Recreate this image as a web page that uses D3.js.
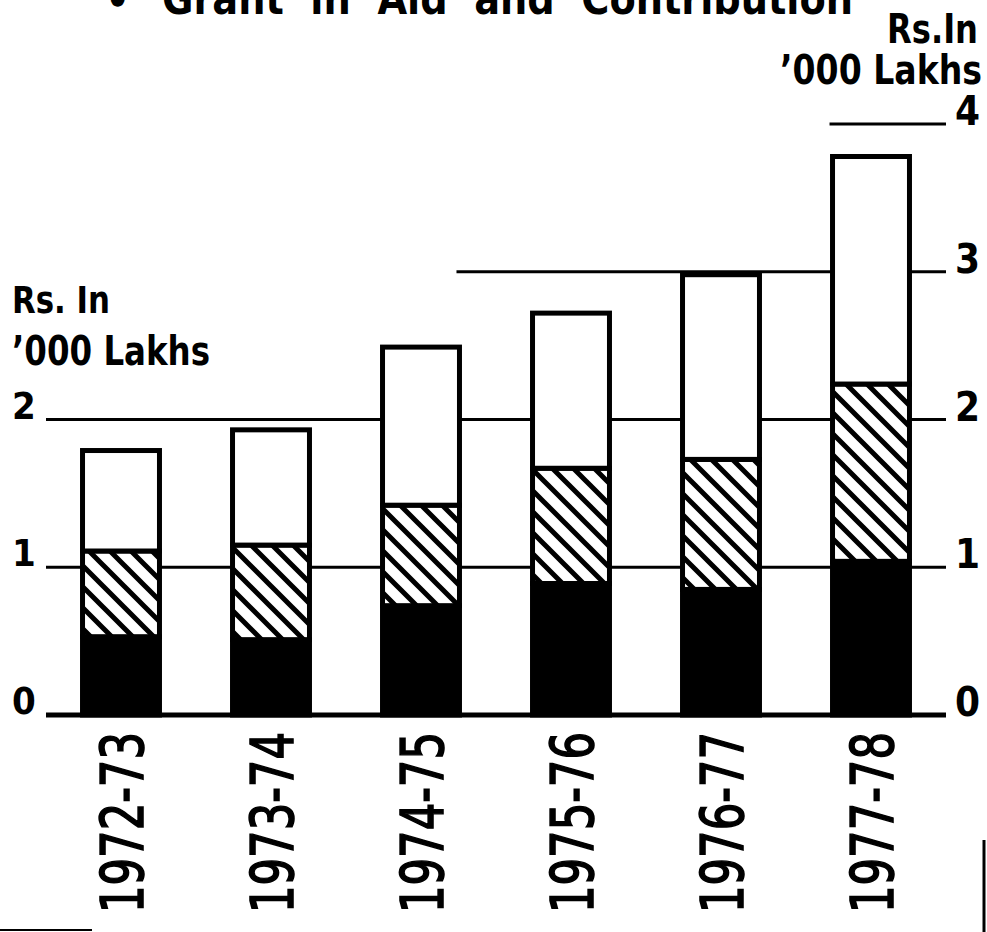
<!DOCTYPE html>
<html>
<head>
<meta charset="utf-8">
<script src="https://cdn.jsdelivr.net/npm/d3@7"></script>
<style>
  html, body { margin: 0; padding: 0; background: #fff; }
  svg { display: block; }
  text { font-family: "DejaVu Sans Condensed", "DejaVu Sans", sans-serif; fill: #000; }
</style>
</head>
<body>
<div id="container"></div>
<script>
var years = ["1972-73", "1973-74", "1974-75", "1975-76", "1976-77", "1977-78"];
// stacked segments, bottom to top (Rs. in '000 lakhs)
var solidPart = [0.53, 0.51, 0.74, 0.89, 0.85, 1.04];
var hatchedPart = [0.58, 0.64, 0.68, 0.78, 0.88, 1.20];
var openPart = [0.68, 0.78, 1.07, 1.05, 1.25, 1.54];
var leftTicks = [0, 1, 2];
var rightTicks = [0, 1, 2, 3, 4];
var title = "Grant  in  Aid  and  Contribution";

var width = 987, height = 932;

var svg = d3.select("div#container")
    .append("svg")
    .attr("width", width)
    .attr("height", height);

var defs = svg.append("defs");
var hatch = defs.append("pattern")
    .attr("id", "hatch")
    .attr("patternUnits", "userSpaceOnUse")
    .attr("width", 21)
    .attr("height", 21);
hatch.append("rect").attr("width", 21).attr("height", 21).attr("fill", "#fff");
hatch.append("path")
    .attr("d", "M0,0L21,21M-5.25,15.75L5.25,26.25M15.75,-5.25L26.25,5.25")
    .attr("stroke", "#000")
    .attr("stroke-width", 5);

var rows = years.map(function(y, i) {
    return { year: y, solid: solidPart[i], hatched: hatchedPart[i], open: openPart[i] };
});
var keys = ["solid", "hatched", "open"];
var fills = { solid: "#000", hatched: "url(#hatch)", open: "#fff" };
var series = d3.stack().keys(keys)(rows);

var x = d3.scaleBand()
    .domain(years)
    .range([46, 946])
    .paddingInner(0.487)
    .paddingOuter(0.2435);

var y = d3.scaleLinear()
    .domain([0, 4])
    .range([715, 124]);

// gridlines (upper ones only start near the tall bars)
var gridStart = function(v) {
    if (v === 3) return x("1974-75") + x.bandwidth() - 3;
    if (v === 4) return x("1977-78") - 3;
    return 46;
};
svg.append("g")
    .selectAll("line")
    .data(rightTicks.filter(function(v) { return v > 0; }))
    .enter().append("line")
    .attr("x1", gridStart)
    .attr("x2", 946)
    .attr("y1", function(d) { return y(d); })
    .attr("y2", function(d) { return y(d); })
    .attr("stroke", "#000")
    .attr("stroke-width", 3);

// bars
svg.append("g")
    .selectAll("g")
    .data(series)
    .enter().append("g")
    .attr("fill", function(d) { return fills[d.key]; })
    .selectAll("rect")
    .data(function(d) { return d; })
    .enter().append("rect")
    .attr("x", function(d) { return x(d.data.year); })
    .attr("width", x.bandwidth())
    .attr("y", function(d) { return y(d[1]); })
    .attr("height", function(d) { return y(d[0]) - y(d[1]); })
    .attr("stroke", "#000")
    .attr("stroke-width", 5);

// baseline
svg.append("line")
    .attr("x1", 46).attr("x2", 946)
    .attr("y1", y(0)).attr("y2", y(0))
    .attr("stroke", "#000")
    .attr("stroke-width", 5);

// left axis
svg.append("g")
    .selectAll("text")
    .data(leftTicks)
    .enter().append("text")
    .attr("x", 12)
    .attr("y", function(d) { return y(d) - 1; })
    .attr("font-size", 38)
    .attr("font-weight", "bold")
    .text(function(d) { return d; });

svg.append("text").attr("x", 12).attr("y", 313)
    .attr("font-size", 38).attr("font-weight", "bold")
    .attr("textLength", 98).attr("lengthAdjust", "spacingAndGlyphs")
    .text("Rs. In");
svg.append("text").attr("x", 12).attr("y", 365)
    .attr("font-size", 40).attr("font-weight", "bold")
    .attr("textLength", 198).attr("lengthAdjust", "spacingAndGlyphs")
    .text("\u2019000 Lakhs");

// right axis
svg.append("g")
    .selectAll("text")
    .data(rightTicks)
    .enter().append("text")
    .attr("x", 955)
    .attr("y", function(d) { return y(d) + 1; })
    .attr("font-size", 40)
    .attr("font-weight", "bold")
    .text(function(d) { return d; });

svg.append("text").attr("x", 978).attr("y", 43)
    .attr("text-anchor", "end")
    .attr("font-size", 40).attr("font-weight", "bold")
    .attr("textLength", 91).attr("lengthAdjust", "spacingAndGlyphs")
    .text("Rs.In");
svg.append("text").attr("x", 780).attr("y", 84)
    .attr("font-size", 40).attr("font-weight", "bold")
    .attr("textLength", 202).attr("lengthAdjust", "spacingAndGlyphs")
    .text("\u2019000 Lakhs");

// category labels, rotated
svg.append("g")
    .selectAll("text")
    .data(years)
    .enter().append("text")
    .attr("transform", function(d) {
        return "translate(" + (x(d) + x.bandwidth() / 2 + 22) + ",913) rotate(-90)";
    })
    .attr("font-size", 59)
    .attr("stroke", "#000")
    .attr("stroke-width", 1.6)
    .attr("textLength", 181)
    .attr("lengthAdjust", "spacingAndGlyphs")
    .text(function(d) { return d; });

// title, cut by the top edge of the scan
svg.append("text")
    .attr("x", 105).attr("y", 15)
    .attr("font-size", 44).attr("font-weight", "bold")
    .text("\u2022");
svg.append("text")
    .attr("x", 162).attr("y", 14)
    .attr("font-size", 44).attr("font-weight", "bold")
    .attr("xml:space", "preserve")
    .attr("textLength", 691)
    .attr("lengthAdjust", "spacingAndGlyphs")
    .text(title);

// scan edges
svg.append("line").attr("x1", 984).attr("x2", 984).attr("y1", 840).attr("y2", 932)
    .attr("stroke", "#000").attr("stroke-width", 3);
svg.append("line").attr("x1", 0).attr("x2", 92).attr("y1", 930).attr("y2", 930)
    .attr("stroke", "#000").attr("stroke-width", 2);
</script>
</body>
</html>
